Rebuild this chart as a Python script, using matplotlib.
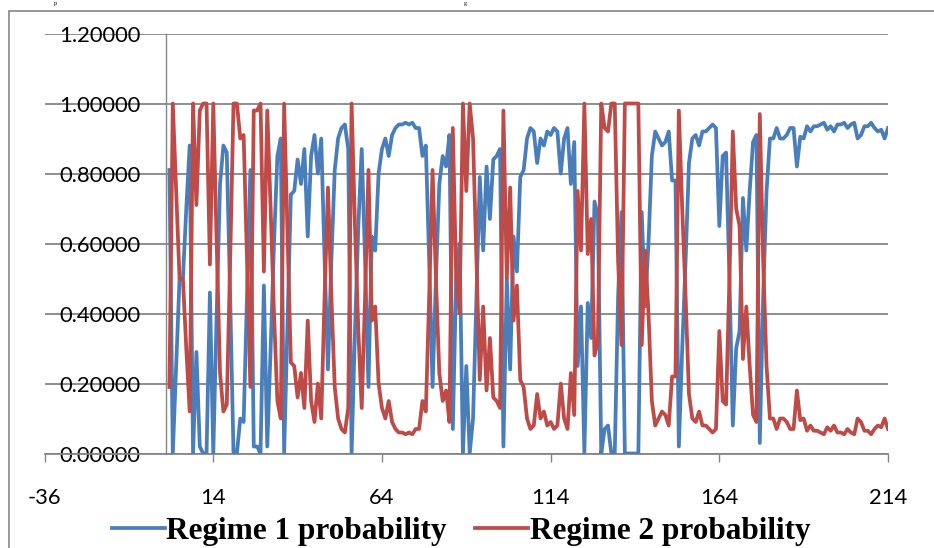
import matplotlib
matplotlib.use("Agg")
import matplotlib.pyplot as plt
from matplotlib.patches import Rectangle
from matplotlib.font_manager import FontProperties

regime1 = [0.81, 0.00, 0.25, 0.50, 0.50, 0.70, 0.88, 0.00, 0.29, 0.02,
           0.00, 0.00, 0.46, 0.00, 0.40, 0.77, 0.88, 0.86, 0.45, 0.00,
           0.00, 0.10, 0.09, 0.45, 0.81, 0.02, 0.02, 0.00, 0.48, 0.02,
           0.30, 0.60, 0.85, 0.90, 0.00, 0.37, 0.74, 0.75, 0.84, 0.77,
           0.87, 0.62, 0.85, 0.91, 0.80, 0.90, 0.55, 0.24, 0.55, 0.81,
           0.90, 0.93, 0.94, 0.87, 0.00, 0.35, 0.65, 0.87, 0.55, 0.19,
           0.62, 0.58, 0.80, 0.87, 0.90, 0.85, 0.91, 0.93, 0.94, 0.94,
           0.945, 0.94, 0.945, 0.93, 0.93, 0.85, 0.88, 0.55, 0.19, 0.50,
           0.77, 0.85, 0.82, 0.91, 0.07, 0.50, 0.60, 0.00, 0.25, 0.00,
           0.10, 0.45, 0.79, 0.58, 0.82, 0.67, 0.84, 0.85, 0.87, 0.02,
           0.50, 0.24, 0.62, 0.52, 0.79, 0.81, 0.90, 0.93, 0.92, 0.83,
           0.90, 0.88, 0.92, 0.91, 0.93, 0.92, 0.80, 0.90, 0.93, 0.77,
           0.89, 0.25, 0.42, 0.00, 0.43, 0.33, 0.72, 0.68, 0.00, 0.07,
           0.08, 0.00, 0.00, 0.45, 0.69, 0.00, 0.00, 0.00, 0.00, 0.00,
           0.69, 0.42, 0.60, 0.85, 0.92, 0.90, 0.88, 0.89, 0.92, 0.78,
           0.78, 0.02, 0.30, 0.55, 0.83, 0.90, 0.91, 0.88, 0.92, 0.92,
           0.93, 0.94, 0.93, 0.65, 0.85, 0.86, 0.50, 0.08, 0.30, 0.35,
           0.73, 0.58, 0.75, 0.89, 0.91, 0.03, 0.45, 0.75, 0.90, 0.90,
           0.93, 0.90, 0.90, 0.91, 0.93, 0.93, 0.82, 0.905, 0.90, 0.935,
           0.92, 0.935, 0.935, 0.94, 0.945, 0.925, 0.935, 0.92, 0.94, 0.94,
           0.945, 0.93, 0.94, 0.945, 0.90, 0.91, 0.935, 0.935, 0.945, 0.93,
           0.92, 0.925, 0.90, 0.93]

regime2 = [0.19, 1.00, 0.75, 0.50, 0.50, 0.30, 0.12, 1.00, 0.71, 0.98,
           1.00, 1.00, 0.54, 1.00, 0.60, 0.23, 0.12, 0.14, 0.55, 1.00,
           1.00, 0.90, 0.91, 0.55, 0.19, 0.98, 0.98, 1.00, 0.52, 0.98,
           0.70, 0.40, 0.15, 0.10, 1.00, 0.63, 0.26, 0.25, 0.16, 0.23,
           0.13, 0.38, 0.15, 0.09, 0.20, 0.10, 0.45, 0.76, 0.45, 0.19,
           0.10, 0.07, 0.06, 0.13, 1.00, 0.65, 0.35, 0.13, 0.45, 0.81,
           0.38, 0.42, 0.20, 0.13, 0.10, 0.15, 0.09, 0.07, 0.06, 0.06,
           0.055, 0.06, 0.055, 0.07, 0.07, 0.15, 0.12, 0.45, 0.81, 0.50,
           0.23, 0.15, 0.18, 0.09, 0.93, 0.50, 0.40, 1.00, 0.75, 1.00,
           0.90, 0.55, 0.21, 0.42, 0.18, 0.33, 0.16, 0.15, 0.13, 0.98,
           0.50, 0.76, 0.38, 0.48, 0.21, 0.19, 0.10, 0.07, 0.08, 0.17,
           0.10, 0.12, 0.08, 0.09, 0.07, 0.08, 0.20, 0.10, 0.07, 0.23,
           0.11, 0.75, 0.58, 1.00, 0.57, 0.67, 0.28, 0.32, 1.00, 0.93,
           0.92, 1.00, 1.00, 0.55, 0.31, 1.00, 1.00, 1.00, 1.00, 1.00,
           0.31, 0.58, 0.40, 0.15, 0.08, 0.10, 0.12, 0.11, 0.08, 0.22,
           0.22, 0.98, 0.70, 0.45, 0.17, 0.10, 0.09, 0.12, 0.08, 0.08,
           0.07, 0.06, 0.07, 0.35, 0.15, 0.14, 0.50, 0.92, 0.70, 0.65,
           0.27, 0.42, 0.25, 0.11, 0.09, 0.97, 0.55, 0.25, 0.10, 0.10,
           0.07, 0.10, 0.10, 0.09, 0.07, 0.07, 0.18, 0.095, 0.10, 0.065,
           0.08, 0.065, 0.065, 0.06, 0.055, 0.075, 0.065, 0.08, 0.06, 0.06,
           0.055, 0.07, 0.06, 0.055, 0.10, 0.09, 0.065, 0.065, 0.055, 0.07,
           0.08, 0.075, 0.10, 0.07]

periods = list(range(1, len(regime1) + 1))
series_names = ["Regime 1 probability", "Regime 2 probability"]
x_ticks = [-36, 14, 64, 114, 164, 214]
y_ticks = [0.0, 0.2, 0.4, 0.6, 0.8, 1.0, 1.2]

W, H = 934, 548
fig = plt.figure(figsize=(W / 100, H / 100), dpi=100)
ax = fig.add_axes([44.6 / W, (H - 453.5) / H, 843.4 / W, 420 / H])

grid_c = "#868686"
ax.plot(periods, regime1, color="#4A7EBB", lw=2.7, solid_joinstyle="round",
        label=series_names[0], zorder=3)
ax.plot(periods, regime2, color="#BE4B48", lw=2.7, solid_joinstyle="round",
        label=series_names[1], zorder=4)

ax.set_xlim(-36, 214)
ax.set_ylim(0, 1.2)
ax.set_yticks(y_ticks)
ax.set_yticklabels([f"{v:.5f}" for v in y_ticks])
ax.set_xticks(x_ticks)
ax.set_xticklabels([str(v) for v in x_ticks])
ax.grid(axis="y", color=grid_c, lw=1.3, zorder=1)
ax.set_axisbelow(True)
for s in ["top", "right"]:
    ax.spines[s].set_visible(False)
ax.spines["left"].set_position(("data", 0))
ax.spines["left"].set_color(grid_c)
ax.spines["bottom"].set_color(grid_c)
ax.spines["left"].set_linewidth(1.0)
ax.spines["bottom"].set_linewidth(1.3)

tick_font = "Lato"
ax.tick_params(axis="y", length=0, pad=18.4, labelsize=15.8, labelcolor="black")
ax.tick_params(axis="x", length=5.8, width=1.0, color=grid_c, pad=18.8,
               labelsize=15.8, labelcolor="black")
for lab in ax.get_xticklabels() + ax.get_yticklabels():
    lab.set_family(tick_font)

leg_font = FontProperties(family="Liberation Serif", weight="bold", size=22.5)
leg = fig.legend(loc="center", bbox_to_anchor=(0.4935, 0.031), ncol=2, frameon=False,
                 handlelength=1.7, handletextpad=0.05, columnspacing=0.9, prop=leg_font,
                 borderaxespad=0, borderpad=0)
for line in leg.get_lines():
    line.set_linewidth(2.7)

# outer chart border (extends beyond the right and bottom edges)
fig.add_artist(Rectangle((9 / W, -0.2), 2.0, (H - 10.5) / H + 0.2,
                         transform=fig.transFigure, fill=False,
                         edgecolor=grid_c, lw=1.2))

# remnants of the caption line above the chart (kept fully inside the image)
fig.text(54 / W, 1 - 0.5 / H, "p", family="Liberation Serif", fontsize=4.5,
         va="top", ha="left")
fig.text(464 / W, 1 - 0.5 / H, "g", family="Liberation Serif", fontsize=4.5,
         va="top", ha="left")

fig.savefig("out.png", dpi=100)
